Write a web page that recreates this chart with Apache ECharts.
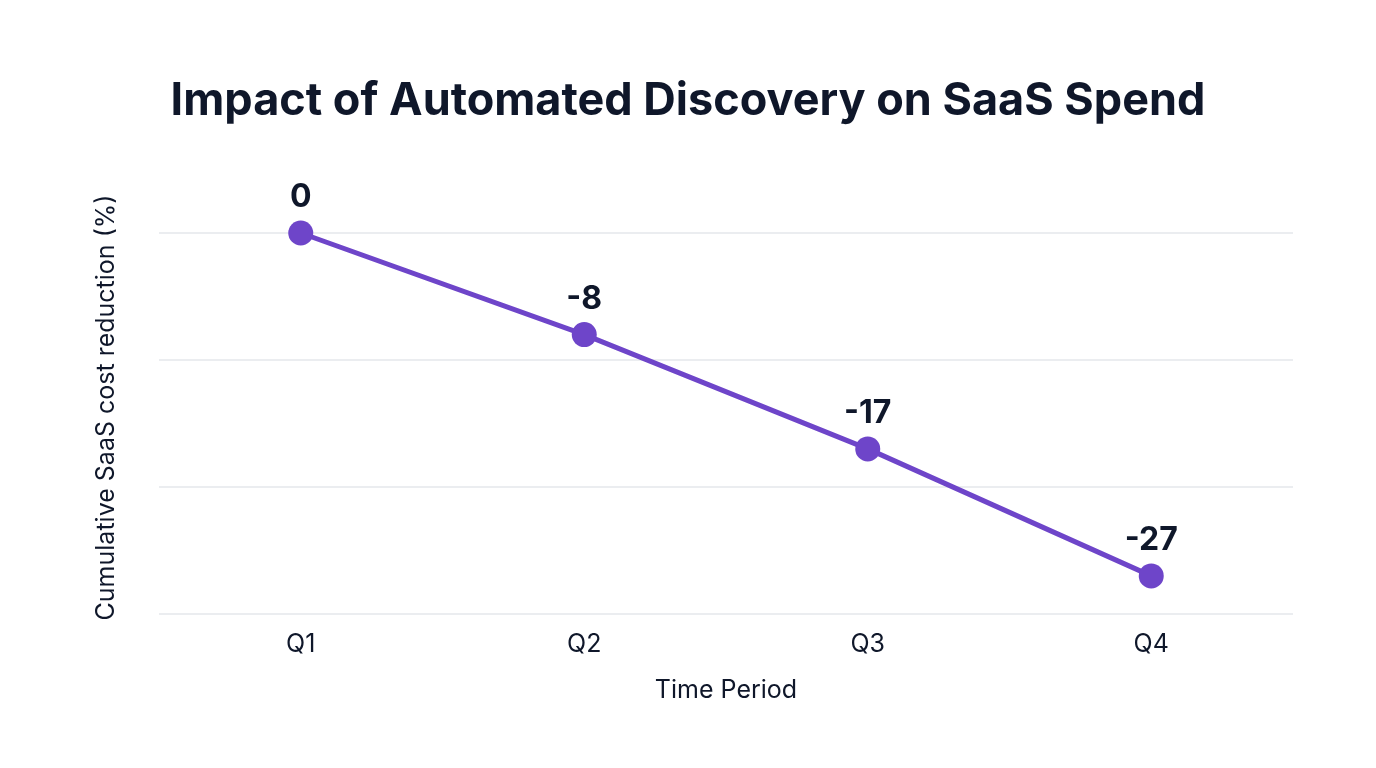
<!DOCTYPE html>
<html>
<head>
<meta charset="utf-8">
<script src="https://cdn.jsdelivr.net/npm/echarts@6/dist/echarts.min.js"></script>
<style>
  html, body { margin: 0; padding: 0; background: #fff; }
  #chart { width: 1376px; height: 768px; }
</style>
</head>
<body>
<div id="chart"></div>
<script>
const quarters = ['Q1', 'Q2', 'Q3', 'Q4']
const reduction = [0, -8, -17, -27]

const chart = echarts.init(document.getElementById('chart'))
chart.setOption({
  backgroundColor: '#ffffff',
  textStyle: { fontFamily: 'Inter' },
  title: {
    text: 'Impact of Automated Discovery on SaaS Spend',
    left: 'center',
    top: 74,
    textStyle: { fontFamily: 'Inter', fontSize: 45, fontWeight: 'bold', color: '#0f172a' }
  },
  grid: { left: 159, right: 83, top: 233, bottom: 154 },
  xAxis: {
    type: 'category',
    data: quarters,
    boundaryGap: true,
    name: 'Time Period',
    nameLocation: 'middle',
    nameGap: 64,
    nameTextStyle: { fontSize: 25, color: '#0f172a' },
    axisLine: { show: false },
    axisTick: { show: false },
    axisLabel: { fontSize: 25, color: '#0f172a', margin: 18 }
  },
  yAxis: {
    type: 'value',
    min: -30,
    max: 0,
    interval: 10,
    name: 'Cumulative SaaS cost reduction (%)',
    nameLocation: 'middle',
    nameGap: 40,
    nameTextStyle: { fontSize: 25, color: '#0f172a', padding: [0, 0, 0, 32] },
    axisLine: { show: false },
    axisTick: { show: false },
    axisLabel: { show: false },
    splitLine: { lineStyle: { color: '#e5e7eb', width: 1.5 } }
  },
  series: [{
    type: 'line',
    data: reduction,
    symbol: 'circle',
    symbolSize: 25,
    itemStyle: { color: '#6e45c9' },
    lineStyle: { color: '#6e45c9', width: 5 },
    label: {
      show: true,
      position: 'top',
      distance: 7,
      fontSize: 32,
      fontWeight: 'bold',
      color: '#0f172a'
    }
  }]
})
</script>
</body>
</html>
